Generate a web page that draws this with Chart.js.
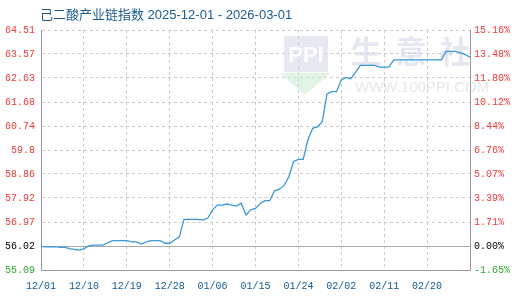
<!DOCTYPE html>
<html>
<head>
<meta charset="utf-8">
<script src="https://cdn.jsdelivr.net/npm/chart.js@4/dist/chart.umd.min.js"></script>
<style>
html,body{margin:0;padding:0;background:#fff;}
#wrap{width:520px;height:300px;position:relative;}
</style>
</head>
<body>
<div id="wrap"><canvas id="c" width="520" height="300"></canvas></div>
<script>
const titleText = "己二酸产业链指数 2025-12-01 - 2026-03-01";

// one point per calendar day, 2025-12-01 .. 2026-03-01
const dates = [];
(function(){
  const d = new Date(Date.UTC(2025, 11, 1));
  for (let i = 0; i < 91; i++) {
    const mm = String(d.getUTCMonth() + 1).padStart(2, "0");
    const dd = String(d.getUTCDate()).padStart(2, "0");
    dates.push(mm + "/" + dd);
    d.setUTCDate(d.getUTCDate() + 1);
  }
})();

const indexValues = [
  56.02, 56.00, 56.00, 56.01, 55.98, 55.98, 55.93, 55.90, 55.87, 55.92,
  56.04, 56.07, 56.07, 56.07, 56.16, 56.24, 56.24, 56.24, 56.24, 56.19,
  56.19, 56.11, 56.18, 56.24, 56.24, 56.24, 56.14, 56.14, 56.27, 56.38,
  57.08, 57.08, 57.08, 57.08, 57.05, 57.13, 57.45, 57.64, 57.64, 57.68,
  57.64, 57.60, 57.71, 57.25, 57.45, 57.51, 57.70, 57.81, 57.81, 58.20,
  58.26, 58.40, 58.75, 59.35, 59.43, 59.43, 60.20, 60.65, 60.71, 60.91,
  62.00, 62.09, 62.09, 62.55, 62.65, 62.60, 62.85, 63.12, 63.12, 63.12,
  63.12, 63.05, 63.05, 63.05, 63.34, 63.34, 63.34, 63.34, 63.34, 63.34,
  63.34, 63.34, 63.34, 63.34, 63.34, 63.67, 63.67, 63.67, 63.61, 63.54,
  63.44
];

const leftTickValues = [55.09, 56.02, 56.97, 57.92, 58.86, 59.8, 60.74, 61.68, 62.63, 63.57, 64.51];
const leftTickLabels = ["55.09", "56.02", "56.97", "57.92", "58.86", "59.8", "60.74", "61.68", "62.63", "63.57", "64.51"];
const rightTickLabels = ["-1.65%", "0.00%", "1.71%", "3.39%", "5.07%", "6.76%", "8.44%", "10.12%", "11.80%", "13.48%", "15.16%"];

const RED = "#f03a3a", GREEN = "#2fa82f", BLACK = "#000000";
function tickColor(i){ return i === 0 ? GREEN : (i === 1 ? BLACK : RED); }
const TICK_FONT = { family: "'Liberation Mono', monospace", size: 10 };

const decor = {
  id: "decor",
  beforeDatasetsDraw(chart) {
    const ctx = chart.ctx;
    ctx.save();
    // logo
    ctx.fillStyle = "rgba(200,208,222,0.45)";
    ctx.fillRect(284, 36, 44, 36);
    ctx.fillStyle = "#ffffff";
    ctx.font = "bold 22px 'Liberation Sans', sans-serif";
    ctx.textAlign = "center";
    ctx.textBaseline = "middle";
    ctx.fillText("PPI", 306, 56);
    ctx.fillStyle = "rgba(200,235,210,0.55)";
    ctx.beginPath();
    ctx.moveTo(280, 73); ctx.lineTo(330, 73); ctx.lineTo(305, 95); ctx.closePath();
    ctx.fill();
    // 生意社
    ctx.fillStyle = "rgba(205,212,228,0.55)";
    ctx.font = "bold 31px 'Noto Sans CJK SC', sans-serif";
    const chars = ["生", "意", "社"], cx = [366, 411, 455];
    chars.forEach((ch, i) => ctx.fillText(ch, cx[i], 51));
    ctx.fillStyle = "rgba(210,210,210,0.5)";
    ctx.font = "15px 'Liberation Sans', sans-serif";
    ctx.textAlign = "left";
    ctx.fillText("WWW.100PPI.COM", 355, 88);
    ctx.restore();
  },
  afterDraw(chart) {
    const ctx = chart.ctx;
    ctx.save();
    ctx.fillStyle = "#1b5c8e";
    ctx.font = "13px 'Liberation Sans', 'Noto Sans CJK SC', sans-serif";
    ctx.textAlign = "left";
    ctx.textBaseline = "middle";
    ctx.fillText(titleText, 40, 15);
    ctx.restore();
  }
};

new Chart(document.getElementById("c"), {
  type: "line",
  data: {
    labels: dates,
    datasets: [{
      data: indexValues,
      borderColor: "#3b98d8",
      borderWidth: 1.3,
      pointRadius: 0,
      tension: 0,
      fill: false,
      yAxisID: "y"
    }]
  },
  options: {
    responsive: false,
    animation: false,
    layout: { padding: { top: 30, left: 0, right: 0, bottom: 0 } },
    plugins: { legend: { display: false }, tooltip: { enabled: false }, title: { display: false } },
    scales: {
      x: {
        type: "category",
        offset: false,
        afterFit(s){ s.height = 30; },
        grid: { color: "#cccccc", lineWidth: 1, drawTicks: false },
        border: { color: "#999999", width: 1, dash: [3, 3] },
        ticks: {
          autoSkip: false, maxRotation: 0, minRotation: 0, padding: 10,
          color: "#0f5a8e", font: TICK_FONT,
          callback(v, i){ return (i % 9 === 0 && i < 90) ? dates[i] : null; }
        }
      },
      y: {
        position: "left",
        min: 55.09, max: 64.51,
        afterFit(s){ s.width = 41; },
        afterBuildTicks(s){ s.ticks = leftTickValues.map(v => ({ value: v })); },
        grid: {
          drawTicks: false, lineWidth: 1,
          color(c){ return c.index === 1 ? "#aaaaaa" : "#cccccc"; }
        },
        border: {
          color: "#999999", width: 1,
          dash(c){ return (c.type === "tick" && c.index !== 1) ? [3, 3] : []; }
        },
        ticks: {
          padding: 6, font: TICK_FONT,
          color(c){ return tickColor(c.index); },
          callback(v, i){ return leftTickLabels[i]; }
        }
      },
      y2: {
        position: "right",
        min: 55.09, max: 64.51,
        afterFit(s){ s.width = 50; },
        afterBuildTicks(s){ s.ticks = leftTickValues.map(v => ({ value: v })); },
        grid: { display: false, drawTicks: false },
        border: { color: "#999999", width: 1 },
        ticks: {
          padding: 4, font: TICK_FONT,
          color(c){ return tickColor(c.index); },
          callback(v, i){ return rightTickLabels[i]; }
        }
      }
    }
  },
  plugins: [decor]
});
</script>
</body>
</html>
